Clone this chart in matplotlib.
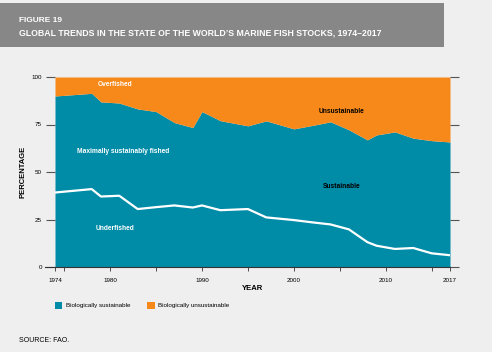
import numpy as np
import matplotlib.pyplot as plt
from matplotlib.patches import Rectangle

# Data (percent of assessed stocks)
years = [1974, 1978, 1979, 1981, 1983, 1985, 1987, 1989, 1990, 1992, 1995,
         1997, 2000, 2002, 2004, 2006, 2008, 2009, 2011, 2013, 2015, 2017]
sustainable = [90.0, 91.4, 86.9, 86.3, 83.2, 81.8, 76.0, 73.4, 81.8, 77.0, 74.3,
               76.9, 72.7, 74.5, 76.4, 72.2, 66.9, 69.5, 71.1, 67.8, 66.5, 65.8]
underfished = [39.2, 41.0, 37.1, 37.5, 30.5, 31.5, 32.4, 31.3, 32.4, 29.9, 30.5,
               26.1, 24.7, 23.5, 22.4, 19.8, 13.1, 11.2, 9.5, 10.0, 7.2, 6.2]
tick_labels = [1974, 1980, 1990, 2000, 2010, 2017]
minor_ticks = [1975, 1985, 1995, 2005, 2015]

teal = '#008ba6'
orange = '#f7891a'
bg = '#efefef'

plt.rcParams['font.family'] = ['Liberation Sans', 'DejaVu Sans']

fig = plt.figure(figsize=(4.92, 3.52), dpi=100, facecolor=bg)
W, H = 492, 352

# header band
fig.patches.append(Rectangle((0, 1 - 47 / H), 444 / W, 44 / H, transform=fig.transFigure,
                             facecolor='#878787', edgecolor='none', zorder=0))
fig.text(19 / W, 1 - 20 / H, 'FIGURE 19', color='white', fontsize=6,
         fontweight='bold', va='center')
fig.text(19 / W, 1 - 33 / H,
         'GLOBAL TRENDS IN THE STATE OF THE WORLD\u2019S MARINE FISH STOCKS, 1974\u20132017',
         color='white', fontsize=6.3, fontweight='bold', va='center')

ax = fig.add_axes([55 / W, 1 - 267 / H, 395 / W, 190 / H])
ax.set_facecolor(bg)
x = np.array(years)
ax.fill_between(x, 0, sustainable, color=teal, lw=0)
ax.fill_between(x, sustainable, 100, color=orange, lw=0)
ax.plot(x, underfished, color='white', lw=1.6)
ax.set_xlim(1974, 2017)
ax.set_ylim(0, 100)

for s in ['top', 'right', 'left']:
    ax.spines[s].set_visible(False)
ax.spines['bottom'].set_color('#333333')
ax.spines['bottom'].set_linewidth(0.8)
ax.spines['bottom'].set_bounds(1972.9, 2017)

ax.set_xticks(tick_labels)
ax.set_xticklabels([str(t) for t in tick_labels])
ax.set_xticks(minor_ticks, minor=True)
ax.tick_params(axis='x', which='both', direction='out', length=3, width=0.6,
               color='#333333', labelsize=4.5, pad=5)
ax.set_yticks([0, 25, 50, 75, 100])
ax.tick_params(axis='y', direction='out', length=6.5, width=0.8, color='#555555',
               labelsize=4.5, pad=3, left=True, right=True, labelright=False)

ax.set_xlabel('YEAR', fontsize=5.5, fontweight='bold')
ax.xaxis.set_label_coords(0.5, -0.095)
ax.set_ylabel('PERCENTAGE', fontsize=5.5, fontweight='bold')
ax.yaxis.set_label_coords(-0.073, 0.5)

lab = dict(fontsize=4.8, fontweight='bold', ha='center', va='center')
ax.text(1980.5, 95.8, 'Overfished', color='white', **lab)
ax.text(1981.4, 60.6, 'Maximally sustainably fished', color='white', **lab)
ax.text(1980.5, 20.1, 'Underfished', color='white', **lab)
ax.text(2005.2, 82.1, 'Unsustainable', color='black', **lab)
ax.text(2005.2, 42.2, 'Sustainable', color='black', **lab)

# legend
fig.patches.append(Rectangle((55 / W, 1 - 309 / H), 7.5 / W, 7.5 / H, transform=fig.transFigure,
                             facecolor=teal, edgecolor='none'))
fig.text(66 / W, 1 - 305 / H, 'Biologically sustainable', fontsize=4.5, va='center')
fig.patches.append(Rectangle((147 / W, 1 - 309 / H), 7.5 / W, 7.5 / H, transform=fig.transFigure,
                             facecolor=orange, edgecolor='none'))
fig.text(158.5 / W, 1 - 305 / H, 'Biologically unsustainable', fontsize=4.5, va='center')

fig.text(19 / W, 1 - 341 / H, 'SOURCE: FAO.', fontsize=5, va='center')

fig.savefig('out.png', dpi=100, facecolor=bg)
